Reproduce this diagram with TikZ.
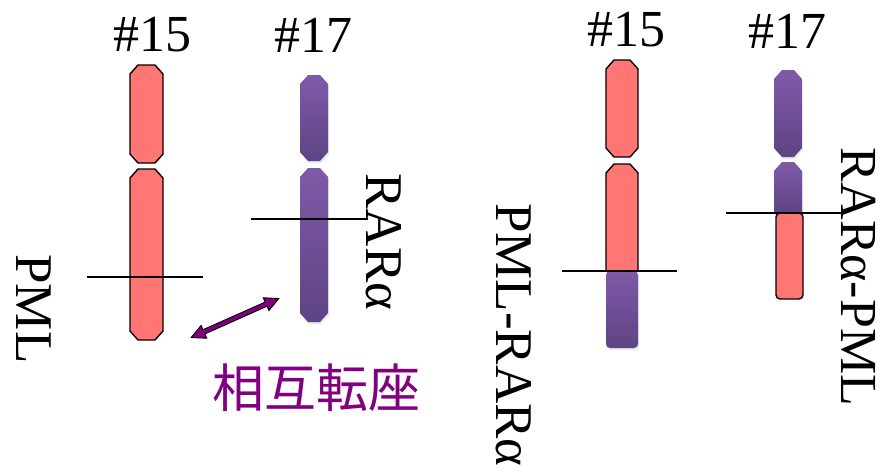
\documentclass[tikz,border=0pt]{standalone}
\usepackage{fontspec}
\setmainfont{Liberation Serif}
\newfontfamily\cjk{Noto Sans CJK JP}
\usetikzlibrary{shadows}

\definecolor{armred}{RGB}{255,118,116}
\definecolor{armviolettop}{RGB}{127,90,168}
\definecolor{armvioletbot}{RGB}{94,68,132}
\definecolor{swapviolet}{RGB}{128,0,128}

\tikzset{
    redarm/.style={fill=armred, draw=black, line width=1.4pt, line join=round},
    violetarm/.style={top color=armviolettop, bottom color=armvioletbot, draw=none,
        drop shadow={shadow xshift=1pt, shadow yshift=-2pt, opacity=.18}},
    breakline/.style={draw=black, line width=1.1pt},
    chromlabel/.style={font=\fontsize{52}{56}\selectfont},
    genelabel/.style={font=\fontsize{53}{58}\selectfont, rotate=-90, inner sep=0pt},
    swaparrow/.style={fill=swapviolet, draw=black, line width=.9pt, line join=miter},
}

% chromosome arm, chamfered at both ends
\newcommand\fullarm[5]{\path[#1] (#2+8,#3) -- (#4-8,#3) -- (#4,#3+9) -- (#4,#5-9)
    -- (#4-8,#5) -- (#2+8,#5) -- (#2,#5-9) -- (#2,#3+9) -- cycle;}
% chromosome arm, chamfered on top, cut flat below
\newcommand\toparm[5]{\path[#1] (#2+8,#3) -- (#4-8,#3) -- (#4,#3+9) -- (#4,#5)
    -- (#2,#5) -- (#2,#3+9) -- cycle;}

\begin{document}
\begin{tikzpicture}[x=1pt, y=-1pt]
    \useasboundingbox (0,0) rectangle (882,475);

    % before: chromosome 15
    \node[chromlabel] (c15) at (152,35) {\#15};
    \fullarm{redarm}{130}{65}{163}{163}
    \fullarm{redarm}{130}{169}{163}{340}
    \draw[breakline] (87,277) -- (203,277);
    \node[genelabel] (pml) at (34,309) {PML};

    % before: chromosome 17
    \node[chromlabel] (c17) at (313,35) {\#17};
    \fullarm{violetarm}{300}{75}{328}{161}
    \fullarm{violetarm}{300}{168}{328}{322}
    \draw[breakline] (251,219) -- (368,219);
    \node[genelabel] (rara) at (384,242) {RARα};

    % translocation
    \begin{scope}[shift={(235,318)}, rotate=24]
        \path[swaparrow] (-48,0) -- (-34,7) -- (-34,2.3) -- (34,2.3) -- (34,7) -- (48,0)
            -- (34,-7) -- (34,-2.3) -- (-34,-2.3) -- (-34,-7) -- cycle;
    \end{scope}
    \node[text=swapviolet, font=\cjk\fontsize{52}{56}\selectfont] (trans) at (316,388) {相互転座};

    % after: der(15)
    \node[chromlabel] (d15) at (626,30) {\#15};
    \fullarm{redarm}{606}{60}{638}{157}
    \path[violetarm, rounded corners=4pt] (606,271) -- (606,348) -- (638,348) -- (638,271) -- cycle;
    \toparm{redarm}{606}{164}{638}{271}
    \draw[breakline] (562,271) -- (677,271);
    \node[genelabel] (pmlrara) at (514,335) {PML-RARα};

    % after: der(17)
    \node[chromlabel] (d17) at (787,31) {\#17};
    \fullarm{violetarm}{774}{70}{802}{157}
    \toparm{violetarm}{774}{162}{802}{213}
    \path[redarm, rounded corners=4pt] (776,213) rectangle (803,299);
    \draw[breakline] (726,213) -- (841,213);
    \node[genelabel, font=\fontsize{52}{56}\selectfont] (rarapml) at (858,277) {RARα-PML};
\end{tikzpicture}
\end{document}
